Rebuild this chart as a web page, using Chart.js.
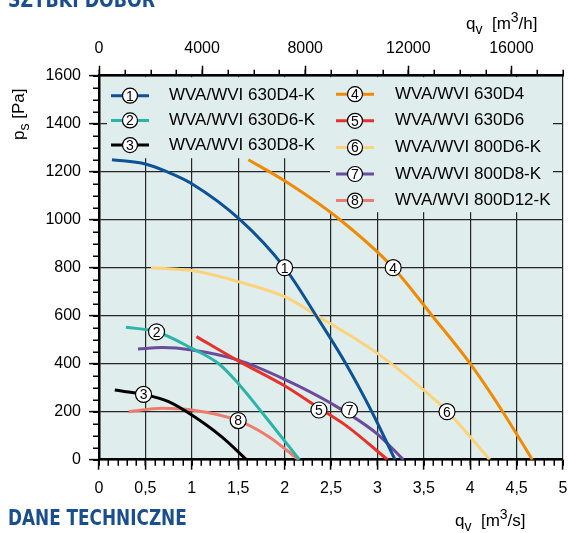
<!DOCTYPE html>
<html>
<head>
<meta charset="utf-8">
<script src="https://cdn.jsdelivr.net/npm/chart.js@4"></script>
<style>
  html, body { margin: 0; padding: 0; background: #fff; }
  #wrap { position: relative; width: 568px; height: 533px; overflow: hidden; font-family: "Liberation Sans", Arial, sans-serif; }
  #chart { position: absolute; left: 0; top: 0; }
  .head { position: absolute; left: 8px; font: bold 22px/22px "Liberation Sans Narrow", "DejaVu Sans Condensed", sans-serif; color: #1a4e8c; white-space: nowrap; transform-origin: 0 0; }
  .ax { position: absolute; font-size: 17px; line-height: 17px; white-space: nowrap; color: #000; }
  .ax sub { font-size: 14px; vertical-align: -5px; line-height: 0; }
  .ax sup { font-size: 14px; vertical-align: 7px; line-height: 0; }
</style>
</head>
<body>
<div id="wrap">
  <canvas id="chart" width="568" height="533"></canvas>
  <div class="head" id="h1" style="top:-11px">SZYBKI DOBÓR</div>
  <div class="head" id="h2" style="top:507px">DANE TECHNICZNE</div>
  <div class="ax" style="left:466px; top:15px">q<sub>v</sub>&nbsp;&nbsp;[m<sup>3</sup>/h]</div>
  <div class="ax" style="left:455px; top:512px">q<sub>v</sub>&nbsp;&nbsp;[m<sup>3</sup>/s]</div>
  <div class="ax" style="left:-12px; top:102px; transform: rotate(-90deg); transform-origin: 30px 8px;">p<sub>s</sub>&nbsp;[Pa]</div>
</div>
<script>
// squeeze the two section headers to the width of the condensed originals
[['h1', 147], ['h2', 179]].forEach(([id, w]) => {
    const el = document.getElementById(id);
    el.style.transform = 'scaleX(' + (w / el.offsetWidth) + ')';
});

// fan curves: q_v [m3/s] vs p_s [Pa]
const curveNames = [
    'WVA/WVI 630D4-K', 'WVA/WVI 630D6-K', 'WVA/WVI 630D8-K', 'WVA/WVI 630D4',
    'WVA/WVI 630D6', 'WVA/WVI 800D6-K', 'WVA/WVI 800D8-K', 'WVA/WVI 800D12-K',
];
const curveColors = ['#0d5196', '#2bb5a8', '#000000', '#f08a00', '#e8312b', '#fdd27a', '#6b4c9a', '#ef7b6c'];

const q1 = [0.14, 0.5, 0.73, 1.0, 1.52, 2.0, 2.34, 2.66, 2.94, 3.19];
const p1 = [1250, 1232, 1200, 1150, 1000, 800, 600, 400, 200, 0];
const q2 = [0.29, 0.62, 1.0, 1.29, 1.5, 1.75, 2.16];
const p2 = [552, 533, 464, 400, 318, 200, 0];
const q3 = [0.17, 0.48, 0.75, 1.0, 1.32, 1.59];
const p3 = [290, 272, 242, 186, 96, 0];
const q4 = [1.61, 2.0, 2.58, 3.17, 3.59, 4.0, 4.35, 4.67];
const p4 = [1250, 1162, 1005, 800, 600, 400, 200, 0];
const q5 = [1.05, 1.5, 2.0, 2.37, 2.67, 3.11];
const p5 = [513, 412, 308, 215, 140, 0];
const q6 = [0.56, 1.0, 1.5, 2.0, 2.35, 3.0, 3.5, 3.75, 4.21];
const p6 = [800, 788, 742, 679, 600, 443, 290, 203, 0];
const q7 = [0.42, 0.68, 1.0, 1.5, 2.0, 2.5, 2.99, 3.28];
const p7 = [461, 467, 457, 415, 335, 235, 110, 0];
const q8 = [0.32, 0.68, 1.0, 1.5, 1.83, 2.15];
const p8 = [200, 214, 207, 163, 96, 0];

const curveQ = [q1, q2, q3, q4, q5, q6, q7, q8];
const curveP = [p1, p2, p3, p4, p5, p6, p7, p8];

// circled curve numbers placed on the curves
const labelQ = [2.0, 0.62, 0.48, 3.17, 2.37, 3.75, 2.7, 1.5];
const labelP = [800, 533, 272, 800, 207, 200, 207, 163];

// top axis in m3/h
const topTicks = [0, 4000, 8000, 12000, 16000];

const PLOT_BG = '#dfeeec';
const GRID = '#262626';
const TICK_FONT = { family: 'Liberation Sans, Arial, sans-serif', size: 16 };

function circledNumber(ctx, x, y, r, n) {
    ctx.beginPath();
    ctx.arc(x, y, r, 0, Math.PI * 2);
    ctx.fillStyle = '#fff';
    ctx.fill();
    ctx.lineWidth = 1.2;
    ctx.strokeStyle = '#000';
    ctx.stroke();
    ctx.fillStyle = '#000';
    ctx.font = '14px Liberation Sans, Arial, sans-serif';
    ctx.textAlign = 'center';
    ctx.textBaseline = 'middle';
    ctx.fillText(String(n), x, y + 1);
}

// plot background + legend panels that hide the grid
const panels = {
    id: 'panels',
    beforeDraw(chart) {
        const { ctx, chartArea: a } = chart;
        ctx.save();
        ctx.fillStyle = PLOT_BG;
        ctx.fillRect(a.left, a.top, a.right - a.left, a.bottom - a.top);
        ctx.restore();
    },
    beforeDatasetsDraw(chart) {
        const { ctx, chartArea: a } = chart;
        ctx.save();
        ctx.fillStyle = PLOT_BG;
        ctx.fillRect(a.left + 8, a.top + 1.5, 223, 81);
        ctx.fillRect(a.left + 231, a.top + 1.5, 223, 135);
        ctx.restore();
    },
    afterDatasetsDraw(chart) {
        const { ctx, chartArea: a, scales } = chart;
        ctx.save();
        // legend
        for (let i = 0; i < curveNames.length; i++) {
            const left = i < 3;
            const y = left ? a.top + 20 + i * 24.7 : a.top + 18.5 + (i - 3) * 26.6;
            const x0 = left ? a.left + 12 : a.left + 237;
            ctx.strokeStyle = curveColors[i];
            ctx.lineWidth = 3;
            ctx.beginPath();
            ctx.moveTo(x0, y);
            ctx.lineTo(x0 + 38, y);
            ctx.stroke();
            circledNumber(ctx, x0 + 19, y, 7.5, i + 1);
            ctx.fillStyle = '#000';
            ctx.font = '17px Liberation Sans, Arial, sans-serif';
            ctx.textAlign = 'left';
            ctx.textBaseline = 'middle';
            ctx.fillText(curveNames[i], left ? a.left + 70 : a.left + 296, y);
        }
        // numbers on curves
        for (let i = 0; i < labelQ.length; i++) {
            circledNumber(ctx, scales.x.getPixelForValue(labelQ[i]), scales.y.getPixelForValue(labelP[i]), 8, i + 1);
        }
        ctx.restore();
    },
};

// short minor ticks on the three axes
const MINOR_Q = 0.1, MINOR_QH = 1000, MINOR_P = 50;
const minorTicks = {
    id: 'minorTicks',
    afterDraw(chart) {
        const { ctx, chartArea: a, scales } = chart;
        ctx.save();
        ctx.strokeStyle = '#000';
        ctx.lineWidth = 1.5;
        ctx.beginPath();
        for (let v = 0; v <= 5.0001; v += MINOR_Q) {
            const px = Math.round(scales.x.getPixelForValue(v)) + 0.25;
            ctx.moveTo(px, a.bottom); ctx.lineTo(px, a.bottom + 6);
        }
        for (let v = 0; v <= 18000; v += MINOR_QH) {
            const px = Math.round(scales.x2.getPixelForValue(v)) + 0.25;
            ctx.moveTo(px, a.top); ctx.lineTo(px, a.top - 6);
        }
        for (let v = 0; v <= 1600; v += MINOR_P) {
            const py = Math.round(scales.y.getPixelForValue(v)) + 0.25;
            ctx.moveTo(a.left, py); ctx.lineTo(a.left - 6, py);
        }
        ctx.stroke();
        ctx.restore();
    },
};

const datasets = curveQ.map((q, i) => ({
    label: curveNames[i],
    data: q.map((v, j) => ({ x: v, y: curveP[i][j] })),
    borderColor: curveColors[i],
    borderWidth: 3,
    pointRadius: 0,
    fill: false,
    cubicInterpolationMode: 'monotone',
}));

// axis width/height fixed so the plot box sits where the original has it
const fitX = h => s => { s.height = h; s.paddingLeft = 0; s.paddingRight = 0; };

new Chart(document.getElementById('chart'), {
    type: 'line',
    data: { datasets },
    options: {
        responsive: false,
        animation: false,
        layout: { padding: { left: 0, right: 5, top: 0, bottom: 0 } },
        plugins: { legend: { display: false }, tooltip: { enabled: false } },
        scales: {
            x: {
                type: 'linear', position: 'bottom', min: 0, max: 5,
                ticks: { stepSize: 0.5, color: '#000', font: TICK_FONT, padding: 9, maxRotation: 0,
                    callback: v => String(v).replace('.', ',') },
                grid: { color: GRID, lineWidth: 1.2, tickLength: 10, tickColor: '#000', tickWidth: 1.5 },
                border: { color: '#000', width: 2.5 },
                afterFit: fitX(73.3),
            },
            x2: {
                type: 'linear', position: 'top', min: 0, max: 18000,
                afterBuildTicks: s => { s.ticks = topTicks.map(v => ({ value: v })); },
                ticks: { color: '#000', font: TICK_FONT, padding: 8, maxRotation: 0, callback: v => String(v) },
                grid: { drawOnChartArea: false, tickLength: 10, tickColor: '#000', tickWidth: 1.5 },
                border: { color: '#000', width: 2.5 },
                afterFit: fitX(75.7),
            },
            y: {
                type: 'linear', min: 0, max: 1600,
                ticks: { stepSize: 200, color: '#000', font: TICK_FONT, padding: 8, callback: v => String(v) },
                grid: { color: GRID, lineWidth: 1.2, tickLength: 10, tickColor: '#000', tickWidth: 1.5 },
                border: { color: '#000', width: 2.5 },
                afterFit: s => { s.width = 99; s.paddingTop = 0; s.paddingBottom = 0; },
            },
        },
    },
    plugins: [panels, minorTicks],
});
</script>
</body>
</html>
